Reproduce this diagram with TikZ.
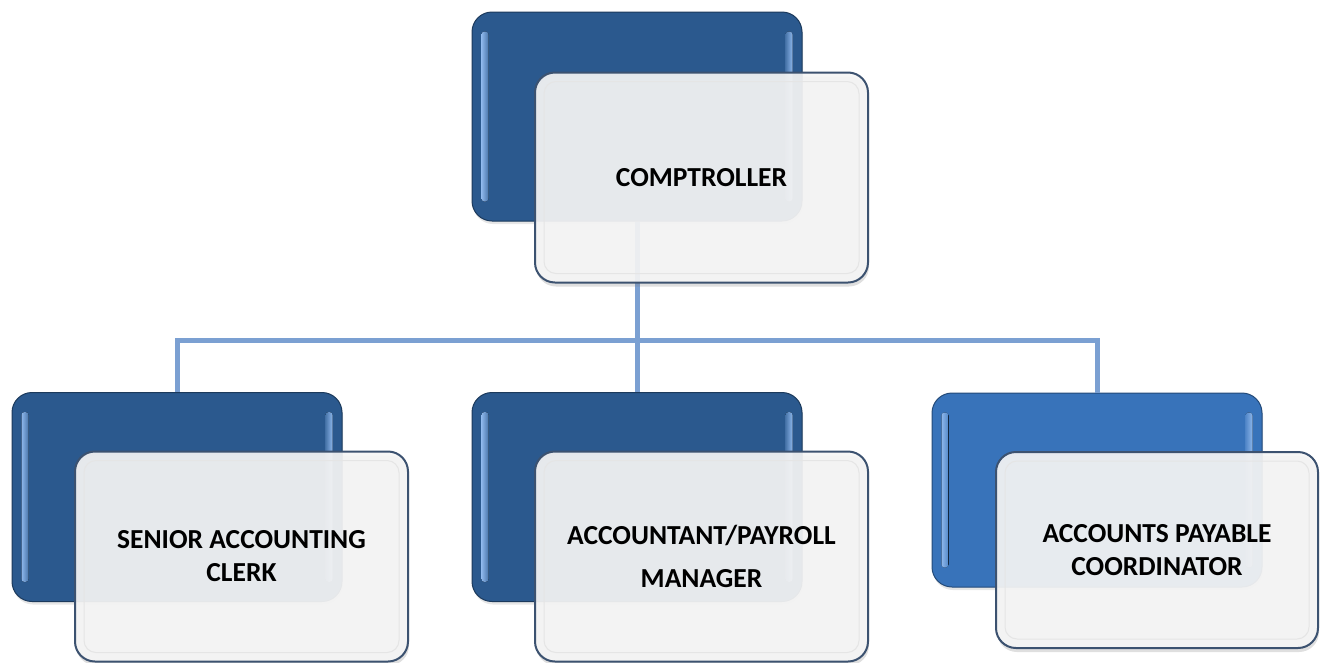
\documentclass[tikz,border=0pt]{standalone}
\usepackage{fontspec}
\setmainfont{Carlito}
\usetikzlibrary{shadows,calc}
\definecolor{darkblue}{HTML}{2B598E}
\definecolor{brightblue}{HTML}{3873BA}
\definecolor{frontfill}{HTML}{F5F5F5}
\definecolor{frontedge}{HTML}{3C5270}
\definecolor{linkblue}{HTML}{7BA0D2}
\definecolor{glosscol}{HTML}{8DB6EA}
\tikzset{
  backbox/.style={rectangle, rounded corners=20pt, draw=#1!65!black, line width=1pt,
    fill=#1,
    drop shadow={opacity=0.2, shadow xshift=1pt, shadow yshift=-3pt},
    minimum width=330pt, minimum height=209pt, inner sep=0pt},
  frontbox/.style={rectangle, rounded corners=20pt, draw=frontedge, line width=2pt,
    fill=frontfill, fill opacity=0.92, draw opacity=1, text opacity=1,
    minimum width=333pt, minimum height=210pt, inner sep=0pt,
    drop shadow={opacity=0.25, shadow xshift=1pt, shadow yshift=-4pt},
    font=\fontsize{27.5}{33}\selectfont\bfseries, align=center},
  innerline/.style={draw=black!10, line width=1pt, rounded corners=12pt},
  glossL/.style={rounded corners=3pt, left color=glosscol, right color=#1!70!glosscol, draw=none},
  glossR/.style={rounded corners=3pt, right color=glosscol, left color=#1!70!glosscol, draw=none},
  link/.style={draw=linkblue, line width=5pt}
}
\begin{document}
\begin{tikzpicture}[x=1pt,y=-1pt]
\useasboundingbox (0,0) rectangle (1320,662);
% back boxes
\node[backbox=darkblue] (b0) at (637,116.5) {};
\node[backbox=darkblue] (b1) at (177,497) {};
\node[backbox=darkblue] (b2) at (637,497) {};
\node[backbox=brightblue, minimum height=194pt] (b3) at (1097,490) {};
% gloss strips
\foreach \b/\c in {b0/darkblue,b1/darkblue,b2/darkblue,b3/brightblue}{
  \fill[glossL=\c] ($(\b.north west)+(10,20)$) rectangle ($(\b.south west)+(17,-20)$);
  \fill[glossR=\c] ($(\b.north east)+(-17,20)$) rectangle ($(\b.south east)+(-10,-20)$);
}
% connectors
\coordinate (bus) at (637,340);
\draw[link] (b0.south) -- (b0.south |- bus) -| (b1.north);
\draw[link] (b0.south |- bus) -| (b3.north);
\draw[link] (b0.south) -- (b2.north);
% front boxes
\node[frontbox] (f0) at (701.5,177.5) {COMPTROLLER};
\node[frontbox] (f1) at (241.5,556.5) {SENIOR ACCOUNTING\\CLERK};
\node[frontbox] (f2) at (701.5,556.5) {ACCOUNTANT/PAYROLL\\[10pt]MANAGER};
\node[frontbox, minimum width=322pt, minimum height=196pt] (f3) at (1157,550) {ACCOUNTS PAYABLE\\COORDINATOR};
\foreach \f in {f0,f1,f2,f3}{
  \draw[innerline] ($(\f.north west)+(10,10)$) rectangle ($(\f.south east)+(-10,-10)$);
}
\end{tikzpicture}
\end{document}
